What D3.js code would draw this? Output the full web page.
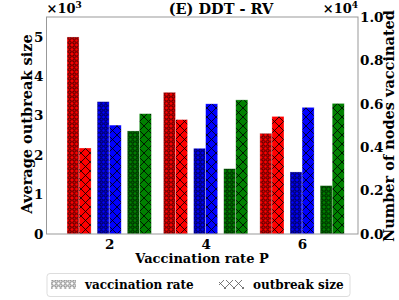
<!DOCTYPE html>
<html>
<head>
<meta charset="utf-8">
<script src="https://cdn.jsdelivr.net/npm/d3@7"></script>
<style>
  body { margin: 0; background: #fff; }
  text { font-family: "DejaVu Serif", serif; font-weight: bold; }
</style>
</head>
<body>
<svg id="chart" width="399" height="300"></svg>
<script>
// vaccination rate P, one group of bars per value
var rates = [2, 4, 6];
var strategies = ['red', 'blue', 'green'];
// number of nodes vaccinated (x10^4), right axis
var vaccinated = {
    red:   [0.908, 0.653, 0.464],
    blue:  [0.610, 0.395, 0.286],
    green: [0.475, 0.301, 0.223]
};
// average outbreak size (x10^3), left axis
var outbreak = {
    red:   [2.18, 2.90, 2.98],
    blue:  [2.76, 3.30, 3.21],
    green: [3.05, 3.40, 3.31]
};
var leftTicks = [0, 1, 2, 3, 4, 5];
var rightTicks = [0, 0.2, 0.4, 0.6, 0.8, 1.0];

var colors = {red: '#ff0000', blue: '#0000ff', green: '#008000'};
var offsets = {red: -0.625, blue: 0, green: 0.625};   // pair centre relative to P
var barW = 0.25;

const margin = {top: 17, right: 41, bottom: 66, left: 46.5};
const width = 399, height = 300;

var svg = d3.select('#chart');

// hatch patterns
var defs = svg.append('defs');
function addHatches(key, fill, ink){
    var oo = defs.append('pattern').attr('id', 'oo-' + key)
        .attr('patternUnits', 'userSpaceOnUse').attr('width', 4.5).attr('height', 4.5);
    oo.append('rect').attr('width', 4.5).attr('height', 4.5).attr('fill', fill);
    oo.append('circle').attr('cx', 2.25).attr('cy', 2.25).attr('r', 1.5)
        .attr('fill', 'none').attr('stroke', ink).attr('stroke-width', 0.9);

    var xx = defs.append('pattern').attr('id', 'xx-' + key)
        .attr('patternUnits', 'userSpaceOnUse').attr('width', 9).attr('height', 9);
    xx.append('rect').attr('width', 9).attr('height', 9).attr('fill', fill);
    xx.append('path').attr('d', 'M0,0L9,9M9,0L0,9')
        .attr('stroke', ink).attr('stroke-width', 0.8);
}
strategies.forEach(k => addHatches(k, colors[k], '#000'));
addHatches('legend', '#fff', '#555');

const x = d3.scaleLinear()
    .domain([0.7, 7.16])
    .range([margin.left, width - margin.right]);

const yL = d3.scaleLinear()
    .domain([0, 5.5])
    .range([height - margin.bottom, margin.top]);

const yR = d3.scaleLinear()
    .domain([0, 1.0])
    .range([height - margin.bottom, margin.top]);

var bw = x(barW) - x(0);

// bars
var bars = svg.append('g');
strategies.forEach(function(k){
    rates.forEach(function(p, i){
        var c = p + offsets[k];
        bars.append('rect')
            .attr('x', x(c - barW)).attr('width', bw)
            .attr('y', yR(vaccinated[k][i]))
            .attr('height', yR(0) - yR(vaccinated[k][i]))
            .attr('fill', 'url(#oo-' + k + ')')
            .attr('stroke', '#fff').attr('stroke-opacity', 0.5).attr('stroke-width', 0.6);
        bars.append('rect')
            .attr('x', x(c)).attr('width', bw)
            .attr('y', yL(outbreak[k][i]))
            .attr('height', yL(0) - yL(outbreak[k][i]))
            .attr('fill', 'url(#xx-' + k + ')')
            .attr('stroke', '#fff').attr('stroke-opacity', 0.5).attr('stroke-width', 0.6);
    });
});

// frame
svg.append('rect')
    .attr('x', margin.left).attr('y', margin.top)
    .attr('width', width - margin.left - margin.right)
    .attr('height', height - margin.top - margin.bottom)
    .attr('fill', 'none').attr('stroke', '#999').attr('stroke-width', 1);

// axes
svg.append('g')
    .attr('transform', `translate(0,${height - margin.bottom})`)
    .call(d3.axisBottom(x).tickValues(rates).tickFormat(d3.format('d')).tickSize(0).tickPadding(5))
    .call(g => g.select('.domain').remove());

svg.append('g')
    .attr('transform', `translate(${margin.left},0)`)
    .call(d3.axisLeft(yL).tickValues(leftTicks).tickFormat(d3.format('d')).tickSize(0).tickPadding(3))
    .call(g => g.select('.domain').remove());

svg.append('g')
    .attr('transform', `translate(${width - margin.right},0)`)
    .call(d3.axisRight(yR).tickValues(rightTicks).tickFormat(d3.format('.1f')).tickSize(0).tickPadding(2))
    .call(g => g.select('.domain').remove());

svg.selectAll('.tick text')
    .attr('font-family', '"DejaVu Serif", serif')
    .attr('font-weight', 'bold')
    .attr('font-size', 13.5)
    .attr('fill', '#000');

// offset labels
var m1 = svg.append('text').attr('x', margin.left).attr('y', 13).attr('font-size', 13);
m1.append('tspan').text('×10');
m1.append('tspan').attr('dy', -5).attr('font-size', 9).text('3');

var m2 = svg.append('text').attr('x', width - margin.right).attr('y', 13)
    .attr('text-anchor', 'end').attr('font-size', 13);
m2.append('tspan').text('×10');
m2.append('tspan').attr('dy', -5).attr('font-size', 9).text('4');

// title and labels
svg.append('text').attr('x', 221).attr('y', 14)
    .attr('text-anchor', 'middle').attr('font-size', 14.5)
    .text('(E) DDT - RV');

svg.append('text').attr('x', 202).attr('y', 263)
    .attr('text-anchor', 'middle').attr('font-size', 13)
    .text('Vaccination rate P');

svg.append('text')
    .attr('transform', 'translate(32,124) rotate(-90)')
    .attr('text-anchor', 'middle').attr('font-size', 14.5)
    .text('Average outbreak size');

svg.append('text')
    .attr('transform', 'translate(394,126) rotate(-90)')
    .attr('text-anchor', 'middle').attr('font-size', 14.5)
    .text('Number of nodes vaccinated');

// legend
var lg = svg.append('g');
lg.append('rect').attr('x', 47).attr('y', 273.5).attr('width', 303).attr('height', 23)
    .attr('rx', 3).attr('fill', '#fff').attr('stroke', '#ddd');
lg.append('rect').attr('x', 51).attr('y', 280).attr('width', 25).attr('height', 9)
    .attr('fill', 'url(#oo-legend)');
lg.append('text').attr('x', 85).attr('y', 289).attr('font-size', 12).text('vaccination rate');
lg.append('rect').attr('x', 219).attr('y', 280).attr('width', 25).attr('height', 9)
    .attr('fill', 'url(#xx-legend)');
lg.append('text').attr('x', 253).attr('y', 289).attr('font-size', 12).text('outbreak size');
</script>
</body>
</html>
